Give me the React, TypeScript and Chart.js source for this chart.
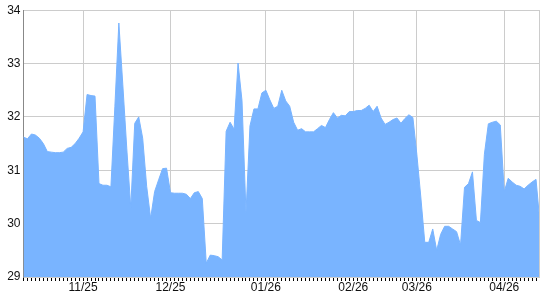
import React, { useEffect, useRef } from "react";
import { Chart, registerables } from "chart.js";

Chart.register(...registerables);

const values: number[] = [
  31.62, 31.59, 31.68, 31.66, 31.6, 31.5, 31.35, 31.34, 31.33, 31.33,
  31.34, 31.41, 31.43, 31.5, 31.6, 31.72, 32.42, 32.4, 32.39, 30.75,
  30.72, 30.72, 30.69, 32.2, 33.76, 32.6, 31.4, 30.3, 31.88, 32.0,
  31.6, 30.7, 30.1, 30.6, 30.82, 31.03, 31.04, 30.58, 30.57, 30.57,
  30.57, 30.55, 30.47, 30.58, 30.6, 30.47, 29.26, 29.41, 29.4, 29.38,
  29.32, 31.73, 31.9, 31.77, 33.01, 32.3, 30.2, 31.83, 32.15, 32.15,
  32.45, 32.5, 32.32, 32.16, 32.2, 32.5, 32.3, 32.2, 31.9, 31.75,
  31.78, 31.72, 31.72, 31.72, 31.78, 31.84, 31.8, 31.95, 32.08, 31.98,
  32.03, 32.02, 32.1, 32.1, 32.12, 32.12, 32.16, 32.22, 32.1, 32.2,
  31.98, 31.86, 31.9, 31.95, 31.98, 31.88, 31.97, 32.04, 31.99, 31.3,
  30.5, 29.65, 29.65, 29.9, 29.5, 29.8, 29.95, 29.95, 29.9, 29.85,
  29.6, 30.68, 30.75, 30.97, 30.06, 30.02, 31.3, 31.87, 31.9, 31.92,
  31.85, 30.6, 30.85, 30.78, 30.72, 30.7, 30.65, 30.72, 30.78, 30.83,
  30.0,
];

const tickLabels: string[] = ["11/25", "12/25", "01/26", "02/26", "03/26", "04/26"];
const tickIndices: number[] = [15, 37, 61, 83, 99, 121];

const yMin = 29;
const yMax = 34;

const FONT = "'Liberation Sans', Arial, sans-serif";

export default function App() {
  const ref = useRef<HTMLCanvasElement | null>(null);

  useEffect(() => {
    document.body.style.margin = "0";
    const canvas = ref.current;
    if (!canvas) return;
    const categories = values.map((_, i) => {
      const k = tickIndices.indexOf(i);
      return k >= 0 ? tickLabels[k] : "";
    });

    const rightBorder = {
      id: "rightBorder",
      afterDraw(chart: any) {
        const { ctx, chartArea } = chart;
        ctx.save();
        ctx.strokeStyle = "#cccccc";
        ctx.lineWidth = 1;
        ctx.beginPath();
        ctx.moveTo(Math.round(chartArea.right) - 0.5, chartArea.top);
        ctx.lineTo(Math.round(chartArea.right) - 0.5, chartArea.bottom);
        ctx.stroke();
        ctx.restore();
      },
    };

    const chart = new Chart(canvas, {
      type: "line",
      data: {
        labels: categories,
        datasets: [
          {
            data: values,
            fill: "start",
            backgroundColor: "#79b4ff",
            borderColor: "#79b4ff",
            borderWidth: 1,
            pointRadius: 0,
            tension: 0,
          },
        ],
      },
      options: {
        animation: false,
        responsive: false,
        maintainAspectRatio: false,
        layout: { padding: { top: 8, right: 0, left: 0, bottom: 0 } },
        plugins: { legend: { display: false }, tooltip: { enabled: false } },
        scales: {
          x: {
            type: "category",
            offset: false,
            afterFit: (s: any) => {
              s.height = 23;
            },
            grid: {
              color: (ctx: any) =>
                ctx.tick && categories[ctx.tick.value] ? "#cccccc" : "rgba(0,0,0,0)",
              tickColor: "#000000",
              tickLength: 4,
              drawTicks: true,
            },
            border: { display: false },
            ticks: {
              autoSkip: false,
              maxRotation: 0,
              minRotation: 0,
              padding: -1,
              color: "#111111",
              font: { family: FONT, size: 12 },
            },
          },
          y: {
            min: yMin,
            max: yMax,
            afterFit: (s: any) => {
              s.width = 23.5;
            },
            grid: { color: "#cccccc", drawTicks: false },
            border: { color: "#888888" },
            ticks: {
              stepSize: 1,
              padding: 3,
              color: "#111111",
              font: { family: FONT, size: 12 },
            },
          },
        },
      },
      plugins: [rightBorder],
    });
    return () => chart.destroy();
  }, []);

  return (
    <div style={{ position: "fixed", left: 0, top: 0, width: 540, height: 300, background: "#fff" }}>
      <canvas ref={ref} width={540} height={300} style={{ display: "block" }} />
    </div>
  );
}
